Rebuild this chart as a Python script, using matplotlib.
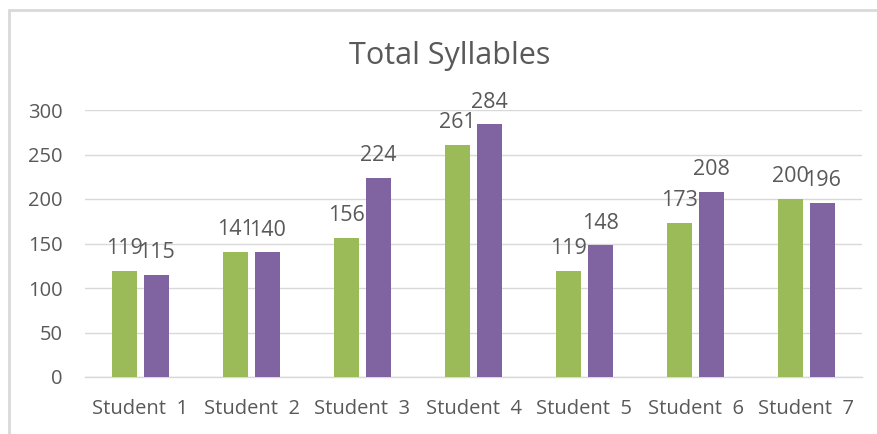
import matplotlib
matplotlib.use('Agg')
import matplotlib.pyplot as plt
from matplotlib.patches import Rectangle
import numpy as np

students = ["Student  1", "Student  2", "Student  3", "Student  4",
            "Student  5", "Student  6", "Student  7"]
series_green = [119, 141, 156, 261, 119, 173, 200]
series_purple = [115, 140, 224, 284, 148, 208, 196]
y_ticks = [0, 50, 100, 150, 200, 250, 300]

GREEN = '#9BBB59'
PURPLE = '#8064A2'
TEXT = '#595959'
GRID = '#D9D9D9'

plt.rcParams['font.family'] = ['Open Sans', 'DejaVu Sans']

W, H = 877, 434
fig = plt.figure(figsize=(W / 100, H / 100), dpi=100)

# outer chart border (only top and left visible, picture is cropped)
fig.add_artist(Rectangle((9 / W, -0.1), 1.2, 1 - 10 / H + 0.1,
                         transform=fig.transFigure, fill=False,
                         edgecolor=GRID, linewidth=2))

ax = fig.add_axes([85 / W, 1 - 377 / H, (862 - 85) / W, (377 - 110) / H])

x = np.arange(len(students))
bw = 0.22
off = 0.145
b1 = ax.bar(x - off, series_green, bw, color=GREEN, zorder=3)
b2 = ax.bar(x + off, series_purple, bw, color=PURPLE, zorder=3)

for bars, vals in ((b1, series_green), (b2, series_purple)):
    for rect, v in zip(bars, vals):
        ax.annotate(str(v), (rect.get_x() + rect.get_width() / 2, v),
                    xytext=(0, 12), textcoords='offset points',
                    ha='center', va='baseline', fontsize=15.5, color=TEXT)

ax.set_xlim(-0.5, len(students) - 0.5)
ax.set_ylim(0, 300)
ax.set_yticks(y_ticks)
ax.set_xticks(x)
ax.set_xticklabels(students)
ax.tick_params(axis='both', length=0, labelsize=14.5, labelcolor=TEXT)
ax.tick_params(axis='y', pad=16)
ax.tick_params(axis='x', pad=16)
ax.grid(axis='y', color=GRID, linewidth=1, zorder=0)
for s in ('top', 'right', 'left'):
    ax.spines[s].set_visible(False)
ax.spines['bottom'].set_color(GRID)
ax.spines['bottom'].set_linewidth(1)

fig.text(450 / W, 1 - 56 / H, 'Total Syllables', ha='center', va='center',
         fontsize=22, color=TEXT)

fig.savefig('out.png', dpi=100)
